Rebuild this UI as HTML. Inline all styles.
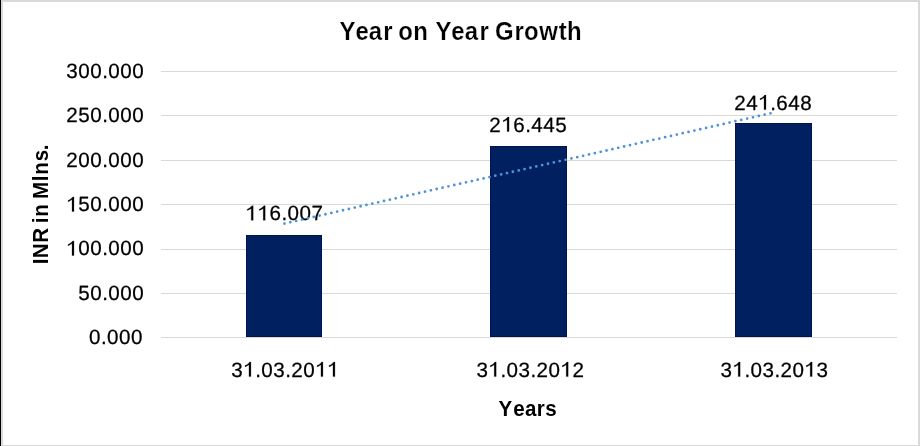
<!DOCTYPE html>
<html><head><meta charset="utf-8"><title>Year on Year Growth</title><style>
html,body{margin:0;padding:0;background:#fff;}
body{width:920px;height:446px;overflow:hidden;position:relative;}
svg{display:block;position:absolute;left:0;top:0;will-change:transform;}
text{font-family:"Liberation Sans",sans-serif;fill:#000;}
text.n{font-size:20.6px;text-rendering:geometricPrecision;stroke:#000;stroke-width:0.25px;}
path.one{fill:#000;stroke:#000;stroke-width:25;}
tspan.h{fill:transparent;stroke:none;}
</style></head><body>
<svg width="920" height="446" viewBox="0 0 920 446">
<defs><path id="one" class="one" d="M770,0 L578,0 L578,1180 C520,1130 420,1065 300,1015 C260,998 220,985 180,975 L180,1100 C320,1150 440,1230 520,1310 C570,1360 610,1410 640,1450 L770,1450 Z"/></defs>
<rect x="0" y="0" width="920" height="446" fill="#fff"/>
<rect x="0" y="0" width="920" height="2" fill="#d9d9d9"/>
<rect x="918" y="0" width="2" height="446" fill="#d9d9d9"/>
<rect x="0" y="445" width="920" height="1" fill="#d9d9d9"/>
<rect x="2" y="0" width="1" height="446" fill="#d9d9d9"/>
<rect x="1" y="0" width="1" height="446" fill="#dddddd"/>
<rect x="0" y="0" width="1" height="446" fill="#000"/>
<g fill="#d9d9d9">
<rect x="161" y="71" width="736" height="1"/>
<rect x="161" y="115" width="736" height="1"/>
<rect x="161" y="160" width="736" height="1"/>
<rect x="161" y="204" width="736" height="1"/>
<rect x="161" y="249" width="736" height="1"/>
<rect x="161" y="293" width="736" height="1"/>
<rect x="161" y="337" width="736" height="1"/>
</g>
<g fill="#002060" stroke="#001452" stroke-width="1">
<rect x="246.5" y="235.5" width="75" height="101"/>
<rect x="490.5" y="146.5" width="76" height="190"/>
<rect x="735.5" y="123.5" width="76" height="213"/>
</g>
<text class="n" x="66.14 78.14 90.14 102.14 108.14 120.14 132.14" y="78.00">300.000</text>
<text class="n" x="66.21 78.21 90.21 102.21 108.21 120.21 132.21" y="122.00">250.000</text>
<text class="n" x="66.35 78.35 90.35 102.35 108.35 120.35 132.35" y="167.00">200.000</text>
<text class="n" x="66.21 78.21 90.21 102.21 108.21 120.21 132.21" y="211.00"><tspan class="h">1</tspan>50.000</text>
<use href="#one" transform="translate(66.21,211.49) scale(0.010059,-0.010059)"/>
<text class="n" x="66.21 78.21 90.21 102.21 108.21 120.21 132.21" y="255.00"><tspan class="h">1</tspan>00.000</text>
<use href="#one" transform="translate(66.21,255.49) scale(0.010059,-0.010059)"/>
<text class="n" x="78.21 90.21 102.21 108.21 120.21 132.21" y="300.00">50.000</text>
<text class="n" x="89.12 101.12 107.12 119.12 131.12" y="344.00">0.000</text>
<text class="n" x="231.17 243.17 255.17 261.17 273.17 285.17 291.17 303.17 315.17 327.17" y="377.00">3<tspan class="h">1</tspan>.03.20<tspan class="h">1</tspan><tspan class="h">1</tspan></text>
<use href="#one" transform="translate(243.17,376.60) scale(0.010059,-0.010059)"/>
<use href="#one" transform="translate(315.17,376.60) scale(0.010059,-0.010059)"/>
<use href="#one" transform="translate(327.17,376.60) scale(0.010059,-0.010059)"/>
<text class="n" x="476.42 488.42 500.42 506.42 518.42 530.42 536.42 548.42 560.42 572.42" y="377.00">3<tspan class="h">1</tspan>.03.20<tspan class="h">1</tspan>2</text>
<use href="#one" transform="translate(488.42,376.60) scale(0.010059,-0.010059)"/>
<use href="#one" transform="translate(560.42,376.60) scale(0.010059,-0.010059)"/>
<text class="n" x="720.39 732.39 744.39 750.39 762.39 774.39 780.39 792.39 804.39 816.39" y="377.00">3<tspan class="h">1</tspan>.03.20<tspan class="h">1</tspan>3</text>
<use href="#one" transform="translate(732.39,376.60) scale(0.010059,-0.010059)"/>
<use href="#one" transform="translate(804.39,376.60) scale(0.010059,-0.010059)"/>
<text class="n" x="245.43 257.43 269.43 281.43 287.43 299.43 311.43" y="220.00"><tspan class="h">1</tspan><tspan class="h">1</tspan>6.007</text>
<use href="#one" transform="translate(245.43,220.30) scale(0.010059,-0.010059)"/>
<use href="#one" transform="translate(257.43,220.30) scale(0.010059,-0.010059)"/>
<text class="n" x="489.31 501.31 513.31 525.31 531.31 543.31 555.31" y="132.00">2<tspan class="h">1</tspan>6.445</text>
<use href="#one" transform="translate(501.31,131.55) scale(0.010059,-0.010059)"/>
<text class="n" x="734.23 746.23 758.23 770.23 776.23 788.23 800.23" y="110.00">24<tspan class="h">1</tspan>.648</text>
<use href="#one" transform="translate(758.23,109.60) scale(0.010059,-0.010059)"/>
<text transform="scale(0.915,1)" x="371.16 388.48 403.03 418.98 429.16 435.12 451.56 467.54 476.09 493.22 507.97 524.13 534.31 541.01 562.19 572.71 589.24 610.80 619.66" y="40.00" style="font-size:26.15px;font-weight:bold;stroke:#fff;stroke-width:0.2px;stroke-linejoin:round;">Year on Year Growth</text>
<text transform="scale(0.95,1)" x="524.85 540.22 552.59 565.02 574.04" y="416.00" style="font-size:21.66px;font-weight:bold;">Years</text>
<text transform="translate(47.90,0) rotate(-90) scale(0.95,1)" x="-278.16 -271.82 -255.59 -239.94 -234.95 -228.08 -214.85 -209.39 -190.74 -184.03 -169.80 -158.21" y="0.00" style="font-size:21.66px;font-weight:bold;">INR in Mlns.</text>
<line x1="284.46" y1="223.54" x2="771" y2="113.19" stroke="#4f93d6" stroke-width="2.8" stroke-linecap="round" stroke-dasharray="0 6.005"/>
</svg>
</body></html>
